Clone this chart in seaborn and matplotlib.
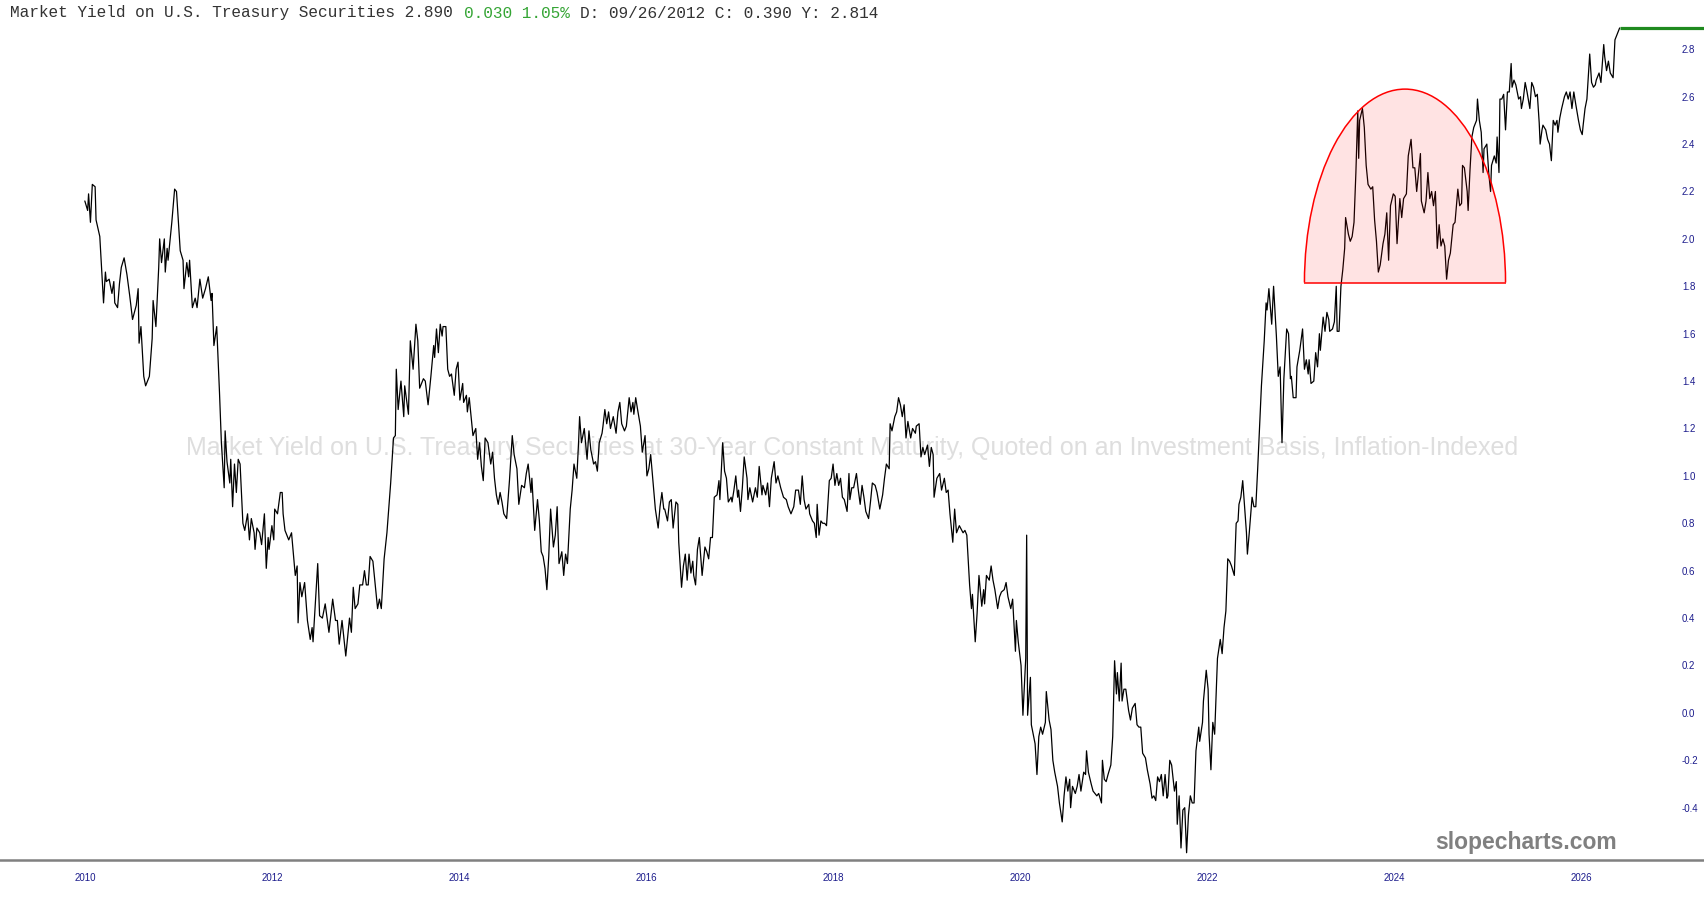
import pandas as pd
import seaborn as sns
import matplotlib.pyplot as plt
from matplotlib.patches import Ellipse, Arc, Rectangle

# Datos (anio decimal, rendimiento %)
t_2010 = [2010.00, 2010.03, 2010.04, 2010.06, 2010.08, 2010.11, 2010.12, 2010.16, 2010.20, 2010.22, 2010.23, 2010.26, 2010.29, 2010.31, 2010.32, 2010.35, 2010.37, 2010.39, 2010.42, 2010.45, 2010.48, 2010.51, 2010.55, 2010.57, 2010.58, 2010.60, 2010.63, 2010.65, 2010.69, 2010.72, 2010.73, 2010.76, 2010.79, 2010.80, 2010.82, 2010.85, 2010.86, 2010.88, 2010.89, 2010.93, 2010.96, 2010.98]
v_2010 = [2.16, 2.12, 2.19, 2.07, 2.23, 2.22, 2.08, 2.01, 1.73, 1.86, 1.82, 1.83, 1.77, 1.82, 1.73, 1.71, 1.81, 1.88, 1.92, 1.85, 1.76, 1.66, 1.72, 1.79, 1.56, 1.63, 1.42, 1.38, 1.42, 1.58, 1.74, 1.63, 1.88, 2.00, 1.90, 2.00, 1.86, 1.96, 1.91, 2.07, 2.21, 2.20]

t_2011 = [2011.02, 2011.05, 2011.06, 2011.09, 2011.11, 2011.12, 2011.15, 2011.18, 2011.20, 2011.23, 2011.26, 2011.29, 2011.32, 2011.35, 2011.36, 2011.38, 2011.41, 2011.44, 2011.46, 2011.49, 2011.50, 2011.52, 2011.55, 2011.56, 2011.58, 2011.60, 2011.62, 2011.64, 2011.66, 2011.69, 2011.71, 2011.74, 2011.76, 2011.78, 2011.81, 2011.82, 2011.84, 2011.87, 2011.89, 2011.92, 2011.94, 2011.96, 2011.97]
v_2011 = [1.95, 1.91, 1.79, 1.90, 1.84, 1.91, 1.71, 1.75, 1.71, 1.83, 1.75, 1.79, 1.84, 1.74, 1.77, 1.55, 1.63, 1.35, 1.14, 0.95, 1.19, 1.06, 0.97, 1.07, 0.87, 1.05, 0.93, 1.07, 1.05, 0.80, 0.77, 0.84, 0.73, 0.82, 0.76, 0.69, 0.78, 0.76, 0.71, 0.84, 0.61, 0.74, 0.69]

t_2012 = [2012.00, 2012.02, 2012.03, 2012.06, 2012.09, 2012.11, 2012.12, 2012.14, 2012.18, 2012.21, 2012.25, 2012.27, 2012.28, 2012.30, 2012.32, 2012.35, 2012.38, 2012.41, 2012.43, 2012.44, 2012.49, 2012.51, 2012.54, 2012.57, 2012.59, 2012.61, 2012.65, 2012.68, 2012.70, 2012.72, 2012.75, 2012.79, 2012.83, 2012.85, 2012.87, 2012.89, 2012.92, 2012.94, 2012.97, 2012.99]
v_2012 = [0.79, 0.73, 0.86, 0.84, 0.93, 0.93, 0.84, 0.77, 0.73, 0.76, 0.58, 0.62, 0.38, 0.55, 0.49, 0.55, 0.39, 0.31, 0.36, 0.30, 0.63, 0.41, 0.40, 0.46, 0.40, 0.34, 0.48, 0.39, 0.39, 0.29, 0.39, 0.24, 0.40, 0.34, 0.53, 0.44, 0.46, 0.54, 0.54, 0.60]

t_2013 = [2013.01, 2013.03, 2013.05, 2013.08, 2013.11, 2013.13, 2013.15, 2013.17, 2013.20, 2013.23, 2013.27, 2013.30, 2013.32, 2013.33, 2013.35, 2013.38, 2013.41, 2013.42, 2013.46, 2013.48, 2013.51, 2013.54, 2013.56, 2013.58, 2013.62, 2013.64, 2013.67, 2013.70, 2013.73, 2013.74, 2013.76, 2013.78, 2013.80, 2013.82, 2013.83, 2013.86, 2013.88, 2013.90, 2013.92, 2013.95, 2013.97, 2013.99]
v_2013 = [0.54, 0.54, 0.66, 0.64, 0.52, 0.44, 0.48, 0.44, 0.65, 0.76, 0.97, 1.16, 1.17, 1.45, 1.28, 1.40, 1.25, 1.38, 1.26, 1.57, 1.45, 1.64, 1.57, 1.37, 1.41, 1.40, 1.30, 1.42, 1.55, 1.50, 1.62, 1.52, 1.64, 1.59, 1.63, 1.63, 1.45, 1.42, 1.43, 1.34, 1.45, 1.48]

t_2014 = [2014.01, 2014.04, 2014.05, 2014.08, 2014.09, 2014.11, 2014.14, 2014.15, 2014.18, 2014.20, 2014.22, 2014.24, 2014.26, 2014.28, 2014.31, 2014.34, 2014.36, 2014.38, 2014.40, 2014.42, 2014.44, 2014.46, 2014.48, 2014.51, 2014.54, 2014.57, 2014.59, 2014.62, 2014.64, 2014.67, 2014.70, 2014.72, 2014.74, 2014.77, 2014.78, 2014.81, 2014.84, 2014.86, 2014.88, 2014.90, 2014.92, 2014.94, 2014.96, 2014.98]
v_2014 = [1.32, 1.39, 1.31, 1.34, 1.27, 1.33, 1.21, 1.17, 1.20, 1.07, 1.14, 1.04, 0.98, 1.16, 1.14, 1.05, 1.10, 0.99, 0.92, 0.88, 0.93, 0.89, 0.84, 0.82, 0.98, 1.17, 1.09, 1.03, 0.88, 0.96, 0.95, 1.01, 1.05, 0.93, 0.99, 0.77, 0.90, 0.81, 0.68, 0.66, 0.61, 0.52, 0.66, 0.86]

t_2015 = [2015.01, 2015.03, 2015.05, 2015.07, 2015.10, 2015.12, 2015.14, 2015.16, 2015.19, 2015.21, 2015.23, 2015.26, 2015.28, 2015.29, 2015.31, 2015.34, 2015.37, 2015.39, 2015.41, 2015.44, 2015.46, 2015.48, 2015.50, 2015.53, 2015.54, 2015.56, 2015.58, 2015.60, 2015.62, 2015.65, 2015.68, 2015.70, 2015.72, 2015.74, 2015.77, 2015.79, 2015.82, 2015.84, 2015.86, 2015.87, 2015.89, 2015.91, 2015.94, 2015.96, 2015.99]
v_2015 = [0.70, 0.75, 0.87, 0.63, 0.68, 0.58, 0.67, 0.63, 0.86, 0.94, 1.05, 0.99, 1.15, 1.25, 1.14, 1.20, 1.07, 1.19, 1.11, 1.05, 1.06, 1.02, 1.14, 1.18, 1.21, 1.28, 1.22, 1.27, 1.20, 1.25, 1.18, 1.27, 1.31, 1.22, 1.19, 1.21, 1.33, 1.27, 1.31, 1.26, 1.33, 1.28, 1.21, 1.10, 1.17]

t_2016 = [2016.01, 2016.03, 2016.05, 2016.08, 2016.10, 2016.13, 2016.15, 2016.17, 2016.19, 2016.20, 2016.23, 2016.25, 2016.27, 2016.29, 2016.32, 2016.34, 2016.35, 2016.38, 2016.40, 2016.42, 2016.44, 2016.46, 2016.48, 2016.50, 2016.51, 2016.53, 2016.55, 2016.57, 2016.60, 2016.61, 2016.63, 2016.65, 2016.67, 2016.69, 2016.71, 2016.73, 2016.76, 2016.78, 2016.79, 2016.82, 2016.84, 2016.86, 2016.88, 2016.91, 2016.92, 2016.94, 2016.96, 2016.98, 2016.99]
v_2016 = [1.00, 1.03, 1.09, 0.95, 0.86, 0.78, 0.87, 0.93, 0.86, 0.86, 0.81, 0.89, 0.90, 0.78, 0.89, 0.88, 0.72, 0.53, 0.62, 0.67, 0.56, 0.67, 0.59, 0.64, 0.58, 0.54, 0.69, 0.74, 0.58, 0.62, 0.70, 0.68, 0.65, 0.74, 0.74, 0.91, 0.92, 0.98, 0.90, 1.14, 1.02, 0.99, 0.89, 0.91, 0.89, 0.94, 1.00, 0.91, 0.94]

t_2017 = [2017.01, 2017.03, 2017.05, 2017.08, 2017.09, 2017.11, 2017.14, 2017.17, 2017.19, 2017.21, 2017.24, 2017.25, 2017.28, 2017.30, 2017.32, 2017.34, 2017.37, 2017.39, 2017.41, 2017.44, 2017.47, 2017.50, 2017.52, 2017.55, 2017.58, 2017.60, 2017.63, 2017.65, 2017.67, 2017.69, 2017.71, 2017.74, 2017.75, 2017.78, 2017.80, 2017.82, 2017.83, 2017.85, 2017.87, 2017.89, 2017.91, 2017.93, 2017.96, 2017.98]
v_2017 = [0.85, 0.95, 1.08, 0.99, 0.90, 0.95, 0.89, 0.95, 0.91, 1.04, 0.92, 0.96, 0.92, 0.97, 0.87, 0.99, 1.06, 0.97, 1.00, 0.95, 0.91, 0.90, 0.87, 0.84, 0.87, 0.94, 0.94, 0.88, 1.00, 0.90, 0.86, 0.88, 0.84, 0.81, 0.80, 0.74, 0.88, 0.75, 0.81, 0.80, 0.80, 0.79, 0.98, 0.99]

t_2018 = [2018.00, 2018.02, 2018.04, 2018.06, 2018.08, 2018.10, 2018.12, 2018.15, 2018.17, 2018.18, 2018.20, 2018.22, 2018.25, 2018.27, 2018.29, 2018.31, 2018.33, 2018.35, 2018.38, 2018.40, 2018.42, 2018.45, 2018.47, 2018.50, 2018.53, 2018.55, 2018.57, 2018.60, 2018.61, 2018.63, 2018.66, 2018.68, 2018.70, 2018.72, 2018.74, 2018.76, 2018.78, 2018.80, 2018.83, 2018.85, 2018.88, 2018.89, 2018.92, 2018.94, 2018.96, 2018.98]
v_2018 = [1.05, 0.96, 1.01, 0.96, 0.99, 0.91, 0.90, 0.85, 1.01, 0.90, 0.95, 0.95, 1.01, 0.94, 0.88, 0.96, 0.91, 0.85, 0.82, 0.89, 0.97, 0.96, 0.93, 0.86, 0.92, 0.99, 1.05, 1.03, 1.22, 1.19, 1.25, 1.27, 1.33, 1.30, 1.25, 1.30, 1.16, 1.23, 1.16, 1.20, 1.18, 1.21, 1.22, 1.08, 1.12, 1.09]

t_2019 = [2019.01, 2019.03, 2019.05, 2019.07, 2019.08, 2019.11, 2019.14, 2019.16, 2019.19, 2019.21, 2019.23, 2019.25, 2019.28, 2019.30, 2019.32, 2019.35, 2019.39, 2019.41, 2019.43, 2019.46, 2019.48, 2019.49, 2019.52, 2019.54, 2019.56, 2019.59, 2019.61, 2019.62, 2019.64, 2019.67, 2019.69, 2019.71, 2019.73, 2019.76, 2019.78, 2019.80, 2019.83, 2019.85, 2019.87, 2019.90, 2019.92, 2019.95, 2019.96, 2019.98]
v_2019 = [1.13, 1.04, 1.12, 1.09, 0.91, 0.99, 1.01, 0.94, 0.99, 0.93, 0.94, 0.84, 0.72, 0.86, 0.76, 0.79, 0.76, 0.77, 0.75, 0.54, 0.44, 0.50, 0.30, 0.42, 0.58, 0.45, 0.52, 0.46, 0.58, 0.56, 0.62, 0.56, 0.52, 0.44, 0.49, 0.51, 0.52, 0.55, 0.49, 0.44, 0.48, 0.26, 0.39, 0.30]

t_2020 = [2020.01, 2020.03, 2020.06, 2020.07, 2020.08, 2020.11, 2020.12, 2020.14, 2020.16, 2020.18, 2020.20, 2020.22, 2020.24, 2020.27, 2020.28, 2020.31, 2020.33, 2020.35, 2020.37, 2020.40, 2020.42, 2020.45, 2020.47, 2020.49, 2020.51, 2020.53, 2020.54, 2020.56, 2020.59, 2020.61, 2020.63, 2020.65, 2020.68, 2020.70, 2020.71, 2020.73, 2020.76, 2020.78, 2020.80, 2020.82, 2020.84, 2020.87, 2020.88, 2020.90, 2020.92, 2020.94, 2020.97, 2020.99]
v_2020 = [0.20, -0.01, 0.23, 0.75, -0.01, 0.15, -0.05, -0.09, -0.13, -0.26, -0.10, -0.06, -0.09, -0.04, 0.09, -0.03, -0.07, -0.20, -0.25, -0.31, -0.38, -0.46, -0.35, -0.27, -0.33, -0.28, -0.40, -0.31, -0.34, -0.31, -0.26, -0.33, -0.25, -0.26, -0.16, -0.25, -0.30, -0.33, -0.34, -0.35, -0.34, -0.38, -0.20, -0.28, -0.29, -0.26, -0.22, -0.10]

t_2021 = [2021.01, 2021.03, 2021.04, 2021.06, 2021.08, 2021.09, 2021.11, 2021.13, 2021.16, 2021.18, 2021.20, 2021.23, 2021.25, 2021.27, 2021.29, 2021.31, 2021.34, 2021.36, 2021.39, 2021.41, 2021.43, 2021.45, 2021.47, 2021.49, 2021.51, 2021.53, 2021.55, 2021.57, 2021.58, 2021.60, 2021.62, 2021.65, 2021.67, 2021.68, 2021.70, 2021.72, 2021.74, 2021.76, 2021.78, 2021.80, 2021.82, 2021.84, 2021.86, 2021.88, 2021.91, 2021.92, 2021.95, 2021.96, 2021.99]
v_2021 = [0.22, 0.08, 0.17, 0.05, 0.21, 0.05, 0.10, 0.10, 0.01, -0.03, 0.02, 0.04, -0.05, -0.06, -0.06, -0.17, -0.19, -0.24, -0.30, -0.36, -0.35, -0.37, -0.27, -0.29, -0.26, -0.35, -0.26, -0.36, -0.35, -0.20, -0.22, -0.33, -0.29, -0.47, -0.35, -0.57, -0.41, -0.40, -0.59, -0.43, -0.35, -0.38, -0.38, -0.16, -0.06, -0.12, -0.04, 0.05, 0.18]

t_2022 = [2022.01, 2022.02, 2022.04, 2022.06, 2022.08, 2022.09, 2022.11, 2022.14, 2022.16, 2022.18, 2022.20, 2022.22, 2022.24, 2022.26, 2022.29, 2022.31, 2022.33, 2022.34, 2022.36, 2022.38, 2022.40, 2022.42, 2022.43, 2022.45, 2022.48, 2022.50, 2022.52, 2022.54, 2022.56, 2022.58, 2022.61, 2022.63, 2022.64, 2022.66, 2022.69, 2022.71, 2022.74, 2022.76, 2022.78, 2022.80, 2022.82, 2022.85, 2022.87, 2022.89, 2022.90, 2022.92, 2022.95, 2022.96, 2022.99]
v_2022 = [0.10, -0.09, -0.24, -0.04, -0.09, 0.02, 0.23, 0.31, 0.25, 0.36, 0.43, 0.65, 0.64, 0.62, 0.58, 0.80, 0.81, 0.88, 0.91, 0.98, 0.87, 0.76, 0.67, 0.76, 0.91, 0.87, 0.87, 1.03, 1.21, 1.38, 1.57, 1.73, 1.70, 1.79, 1.64, 1.80, 1.59, 1.42, 1.46, 1.14, 1.41, 1.62, 1.60, 1.41, 1.42, 1.33, 1.33, 1.46, 1.53]

t_2023 = [2023.02, 2023.04, 2023.06, 2023.08, 2023.09, 2023.11, 2023.14, 2023.16, 2023.18, 2023.20, 2023.21, 2023.24, 2023.26, 2023.28, 2023.30, 2023.31, 2023.34, 2023.36, 2023.38, 2023.39, 2023.41, 2023.43, 2023.45, 2023.47, 2023.48, 2023.51, 2023.53, 2023.55, 2023.57, 2023.59, 2023.61, 2023.62, 2023.63, 2023.66, 2023.68, 2023.70, 2023.72, 2023.75, 2023.77, 2023.79, 2023.81, 2023.83, 2023.85, 2023.88, 2023.90, 2023.92, 2023.94, 2023.96, 2023.99]
v_2023 = [1.62, 1.45, 1.49, 1.43, 1.49, 1.39, 1.40, 1.52, 1.46, 1.60, 1.53, 1.67, 1.61, 1.69, 1.66, 1.61, 1.62, 1.65, 1.80, 1.61, 1.61, 1.80, 1.87, 1.96, 2.09, 2.02, 1.99, 2.01, 2.07, 2.28, 2.54, 2.34, 2.50, 2.55, 2.47, 2.31, 2.23, 2.21, 2.22, 2.08, 1.99, 1.86, 1.89, 1.98, 2.02, 2.11, 1.91, 2.14, 2.19]

t_2024 = [2024.01, 2024.03, 2024.06, 2024.08, 2024.10, 2024.13, 2024.15, 2024.18, 2024.20, 2024.22, 2024.24, 2024.26, 2024.28, 2024.29, 2024.32, 2024.34, 2024.36, 2024.38, 2024.40, 2024.42, 2024.44, 2024.46, 2024.48, 2024.50, 2024.52, 2024.54, 2024.56, 2024.58, 2024.60, 2024.63, 2024.65, 2024.68, 2024.70, 2024.72, 2024.73, 2024.75, 2024.78, 2024.79, 2024.81, 2024.83, 2024.85, 2024.88, 2024.89, 2024.91, 2024.93, 2024.95, 2024.96, 2024.99]
v_2024 = [2.18, 1.98, 2.17, 2.09, 2.17, 2.19, 2.35, 2.42, 2.30, 2.30, 2.20, 2.28, 2.36, 2.16, 2.11, 2.16, 2.28, 2.17, 2.20, 2.14, 2.20, 1.96, 2.06, 1.97, 2.00, 1.97, 1.83, 1.91, 1.94, 2.06, 2.07, 2.21, 2.14, 2.15, 2.31, 2.30, 2.20, 2.12, 2.29, 2.43, 2.47, 2.50, 2.59, 2.50, 2.45, 2.28, 2.38, 2.40]

t_2025 = [2025.01, 2025.03, 2025.04, 2025.07, 2025.09, 2025.10, 2025.12, 2025.13, 2025.15, 2025.17, 2025.19, 2025.21, 2025.23, 2025.25, 2025.26, 2025.28, 2025.30, 2025.33, 2025.35, 2025.36, 2025.38, 2025.40, 2025.42, 2025.45, 2025.47, 2025.49, 2025.51, 2025.53, 2025.55, 2025.56, 2025.58, 2025.59, 2025.62, 2025.64, 2025.66, 2025.68, 2025.70, 2025.72, 2025.74, 2025.75, 2025.77, 2025.79, 2025.82, 2025.84, 2025.86, 2025.88, 2025.90, 2025.92, 2025.94, 2025.97, 2025.99]
v_2025 = [2.28, 2.20, 2.31, 2.35, 2.32, 2.43, 2.28, 2.59, 2.59, 2.61, 2.46, 2.62, 2.62, 2.74, 2.64, 2.67, 2.65, 2.59, 2.60, 2.55, 2.59, 2.66, 2.62, 2.55, 2.66, 2.64, 2.60, 2.61, 2.49, 2.40, 2.46, 2.48, 2.46, 2.42, 2.40, 2.33, 2.50, 2.48, 2.50, 2.45, 2.51, 2.55, 2.60, 2.62, 2.59, 2.62, 2.55, 2.62, 2.57, 2.50, 2.46]

t_2026 = [2026.01, 2026.02, 2026.04, 2026.06, 2026.09, 2026.11, 2026.13, 2026.15, 2026.16, 2026.19, 2026.21, 2026.24, 2026.25, 2026.27, 2026.29, 2026.31, 2026.34, 2026.36, 2026.40, 2026.41]
v_2026 = [2.44, 2.48, 2.55, 2.59, 2.78, 2.66, 2.64, 2.65, 2.67, 2.70, 2.66, 2.82, 2.77, 2.71, 2.75, 2.70, 2.68, 2.84, 2.88, 2.89]

# Valor actual (linea verde) y semicirculo rojo
last_value = 2.89
arc_left, arc_right = 2023.04, 2025.19
arc_base, arc_top = 1.816, 2.632

x_ticks = [2010, 2012, 2014, 2016, 2018, 2020, 2022, 2024, 2026]
y_ticks = [-0.4, -0.2, 0.0, 0.2, 0.4, 0.6, 0.8, 1.0, 1.2, 1.4, 1.6, 1.8, 2.0, 2.2, 2.4, 2.6, 2.8]

title_main = "Market Yield on U.S. Treasury Securities 2.890 "
title_change = "0.030 1.05%"
title_rest = "D: 09/26/2012 C: 0.390 Y: 2.814"
watermark = ("Market Yield on U.S. Treasury Securities at 30-Year Constant Maturity, "
             "Quoted on an Investment Basis, Inflation-Indexed")

years = (t_2010 + t_2011 + t_2012 + t_2013 + t_2014 + t_2015 + t_2016 + t_2017 + t_2018
         + t_2019 + t_2020 + t_2021 + t_2022 + t_2023 + t_2024 + t_2025 + t_2026)
yields = (v_2010 + v_2011 + v_2012 + v_2013 + v_2014 + v_2015 + v_2016 + v_2017 + v_2018
          + v_2019 + v_2020 + v_2021 + v_2022 + v_2023 + v_2024 + v_2025 + v_2026)
df = pd.DataFrame({'year': years, 'yield': yields})

sns.set_theme(style='white')
plt.rcParams['font.family'] = ['Liberation Sans', 'DejaVu Sans']

fig = plt.figure(figsize=(17.04, 9.0), dpi=100)
ax = fig.add_axes([0, 40 / 900, 1, 860 / 900])
x_left, x_right = 2009.093, 2027.312
ax.set_xlim(x_left, x_right)
ax.set_ylim(-0.6207, 3.008)

sns.lineplot(data=df, x='year', y='yield', ax=ax, color='black', linewidth=0.9,
             estimator=None, sort=False, zorder=2)
ax.plot([years[-1], x_right], [last_value, last_value], color='#1f8a1f', lw=2.3,
        solid_capstyle='butt', zorder=2)

# Semicirculo
cx = (arc_left + arc_right) / 2
w = arc_right - arc_left
h = 2 * (arc_top - arc_base)
fill = Ellipse((cx, arc_base), w, h, facecolor='red', alpha=0.11, edgecolor='none', zorder=3)
ax.add_patch(fill)
fill.set_clip_path(Rectangle((arc_left, arc_base), w, h / 2, transform=ax.transData))
ax.add_patch(Arc((cx, arc_base), w, h, theta1=0, theta2=180, color='red', lw=1.1, zorder=4))
ax.hlines(arc_base, arc_left, arc_right, color='red', lw=1.1, zorder=4)

# Ejes
navy = '#1c1c8c'
ax.set_xticks(x_ticks)
ax.set_xticklabels([str(y) for y in x_ticks])
ax.yaxis.tick_right()
ax.set_yticks(y_ticks)
ax.set_yticklabels(['%.1f' % v for v in y_ticks])
ax.tick_params(axis='x', length=0, pad=9.5, labelsize=7, labelcolor=navy)
ax.tick_params(axis='y', length=0, pad=-15.8, labelsize=7, labelcolor=navy)
ax.set_xlabel('')
ax.set_ylabel('')
for s in ['left', 'right', 'top']:
    ax.spines[s].set_visible(False)
ax.spines['bottom'].set_color('#808080')
ax.spines['bottom'].set_linewidth(1.8)
ax.grid(False)

# Textos
ax.text(0.5, (860 - 448) / 860, watermark, transform=ax.transAxes, ha='center', va='center',
        color='#dedede', fontsize=18, zorder=1)
ax.text(1617 / 1704, (860 - 842) / 860, 'slopecharts.com', transform=ax.transAxes,
        ha='right', va='center', color='#808080', fontsize=16.5, fontweight='bold', zorder=5)

fs = 11.6
cw = 0.6 * fs
for txt, col, n in [(title_main, '#333333', 0), (title_change, '#35a535', 47), (title_rest, '#333333', 59)]:
    ax.annotate(txt, xy=(10, 887), xycoords='figure pixels', xytext=(n * cw, 0),
                textcoords='offset points', ha='left', va='center', color=col,
                fontsize=fs, family='Liberation Mono', annotation_clip=False)

fig.savefig('out.png', dpi=100)
